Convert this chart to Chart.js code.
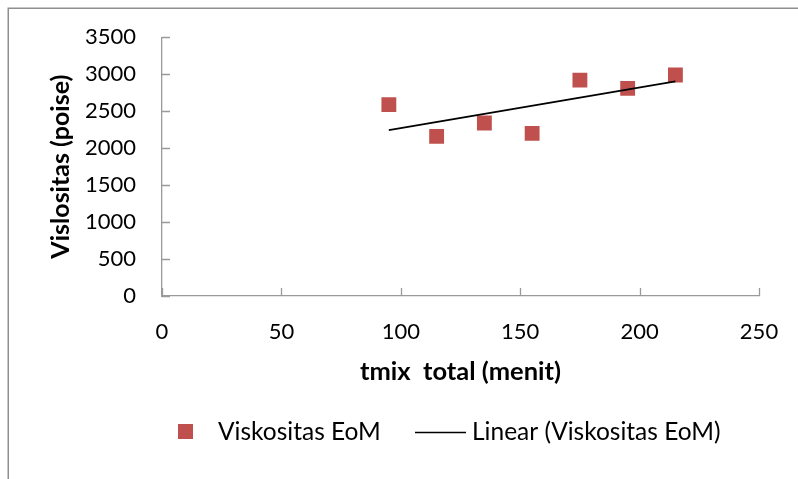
<!DOCTYPE html>
<html>
<head>
<meta charset="utf-8">
<title>Viskositas EoM</title>
<script src="https://cdn.jsdelivr.net/npm/chart.js@4.4.1/dist/chart.umd.min.js"></script>
<style>
  html, body { margin: 0; padding: 0; background: #ffffff; }
  #wrap { position: relative; width: 798px; height: 479px; }
</style>
</head>
<body>
<div id="wrap"><canvas id="chart" width="798" height="479"></canvas></div>
<script>
// Mixing time (minutes) and measured viscosity (poise)
const tmixTotal = [95, 115, 135, 155, 175, 195, 215];
const viskositas = [2590, 2160, 2340, 2200, 2920, 2810, 2990];

// Axis ticks
const xTicks = [0, 50, 100, 150, 200, 250];
const yTicks = [0, 500, 1000, 1500, 2000, 2500, 3000, 3500];

const seriesName = 'Viskositas EoM';
const trendName = 'Linear (Viskositas EoM)';
const xTitle = 'tmix  total (menit)';
const yTitle = 'Vislositas (poise)';

// Least-squares trend line over the measured range
function linearFit(xs, ys) {
  const n = xs.length;
  const mx = xs.reduce((a, b) => a + b, 0) / n;
  const my = ys.reduce((a, b) => a + b, 0) / n;
  let sxy = 0, sxx = 0;
  for (let i = 0; i < n; i++) {
    sxy += (xs[i] - mx) * (ys[i] - my);
    sxx += (xs[i] - mx) * (xs[i] - mx);
  }
  const slope = sxy / sxx;
  return x => my + slope * (x - mx);
}
const fit = linearFit(tmixTotal, viskositas);
const xMin = Math.min(...tmixTotal), xMax = Math.max(...tmixTotal);
const trendPoints = [{ x: xMin, y: fit(xMin) }, { x: xMax, y: fit(xMax) }];

const FONT = 'Lato, "Open Sans", sans-serif';
const AXIS_COLOR = '#9a9a9a';
const MARKER = '#c0504d';

// Plot rectangle inside the 798x479 canvas
const PLOT = { left: 162, right: 759, top: 37.3, bottom: 296 };

// Outer frame (left and top edges) around the chart
const framePlugin = {
  id: 'frame',
  beforeDraw(chart) {
    const ctx = chart.ctx;
    ctx.save();
    ctx.strokeStyle = '#8f8f8f';
    ctx.lineWidth = 1.5;
    ctx.beginPath();
    ctx.moveTo(8.25, chart.height);
    ctx.lineTo(8.25, 8.25);
    ctx.lineTo(chart.width, 8.25);
    ctx.stroke();
    ctx.restore();
  }
};

// Inward-pointing major tick marks on both axes
const innerTicksPlugin = {
  id: 'innerTicks',
  afterDatasetsDraw(chart) {
    const { ctx, scales: { x, y } } = chart;
    const len = 8;
    ctx.save();
    ctx.strokeStyle = AXIS_COLOR;
    ctx.lineWidth = 1.3;
    ctx.beginPath();
    xTicks.forEach(v => {
      const px = Math.round(x.getPixelForValue(v)) + 0.5;
      ctx.moveTo(px, y.bottom);
      ctx.lineTo(px, y.bottom - len);
    });
    yTicks.forEach(v => {
      const py = Math.round(y.getPixelForValue(v)) + 0.5;
      ctx.moveTo(x.left, py);
      ctx.lineTo(x.left + len, py);
    });
    ctx.stroke();
    ctx.restore();
  }
};

// Legend row: square marker for the data, short line for the trend
const legendRowPlugin = {
  id: 'legendRow',
  afterDraw(chart) {
    const ctx = chart.ctx;
    const cy = 432;
    ctx.save();
    ctx.font = '24.5px ' + FONT;
    ctx.textBaseline = 'middle';

    ctx.fillStyle = MARKER;
    ctx.fillRect(178, cy - 8, 15, 15);
    ctx.fillStyle = '#000000';
    ctx.fillText(seriesName, 218, cy);

    ctx.strokeStyle = '#000000';
    ctx.lineWidth = 1.6;
    ctx.beginPath();
    ctx.moveTo(415, cy + 0.5);
    ctx.lineTo(466, cy + 0.5);
    ctx.stroke();
    ctx.fillText(trendName, 472, cy);
    ctx.restore();
  }
};

const chart = new Chart(document.getElementById('chart'), {
  type: 'scatter',
  data: {
    datasets: [
      {
        label: seriesName,
        data: tmixTotal.map((t, i) => ({ x: t, y: viskositas[i] })),
        pointStyle: 'rect',
        pointRadius: 10.5,
        pointHoverRadius: 10.5,
        backgroundColor: MARKER,
        borderColor: MARKER,
        borderWidth: 0,
        order: 2
      },
      {
        label: trendName,
        type: 'line',
        data: trendPoints,
        borderColor: '#000000',
        borderWidth: 1.8,
        pointRadius: 0,
        fill: false,
        order: 1
      }
    ]
  },
  options: {
    responsive: false,
    animation: false,
    events: [],
    layout: { padding: { left: 0, right: 39, top: 37, bottom: 79 } },
    plugins: {
      legend: { display: false },
      tooltip: { enabled: false }
    },
    scales: {
      x: {
        type: 'linear',
        min: 0,
        max: 250,
        afterBuildTicks(scale) { scale.ticks = xTicks.map(v => ({ value: v })); },
        afterFit(scale) {
          scale.height = 104;
          scale.paddingLeft = 0;
          scale.paddingRight = 0;
        },
        grid: { display: false, drawTicks: false },
        border: { display: true, color: AXIS_COLOR, width: 1.3 },
        ticks: {
          padding: 23,
          color: '#000000',
          font: { family: FONT, size: 22 },
          callback: v => String(v)
        },
        title: {
          display: true,
          text: xTitle,
          color: '#000000',
          font: { family: FONT, size: 25.5, weight: 'bold' },
          padding: { top: 0, bottom: 12.7 }
        }
      },
      y: {
        type: 'linear',
        min: 0,
        max: 3500,
        afterBuildTicks(scale) { scale.ticks = yTicks.map(v => ({ value: v })); },
        afterFit(scale) {
          scale.width = PLOT.left;
          scale.paddingTop = 0;
          scale.paddingBottom = 0;
        },
        grid: { display: false, drawTicks: false },
        border: { display: true, color: AXIS_COLOR, width: 1.3 },
        ticks: {
          padding: 26,
          color: '#000000',
          font: { family: FONT, size: 22 },
          callback: v => String(v)
        },
        title: {
          display: true,
          text: yTitle,
          color: '#000000',
          font: { family: FONT, size: 25, weight: 'bold' },
          padding: { top: 46, bottom: 0 }
        }
      }
    }
  },
  plugins: [framePlugin, innerTicksPlugin, legendRowPlugin]
});

// Nudge the layout padding so the plot rectangle lands on PLOT
for (let i = 0; i < 4; i++) {
  const a = chart.chartArea;
  const pad = chart.options.layout.padding;
  const dr = a.right - PLOT.right;
  const dt = PLOT.top - a.top;
  const db = a.bottom - PLOT.bottom;
  if (Math.abs(dr) < 0.2 && Math.abs(dt) < 0.2 && Math.abs(db) < 0.2) break;
  pad.right += dr;
  pad.top += dt;
  pad.bottom += db;
  chart.update();
}
</script>
</body>
</html>
